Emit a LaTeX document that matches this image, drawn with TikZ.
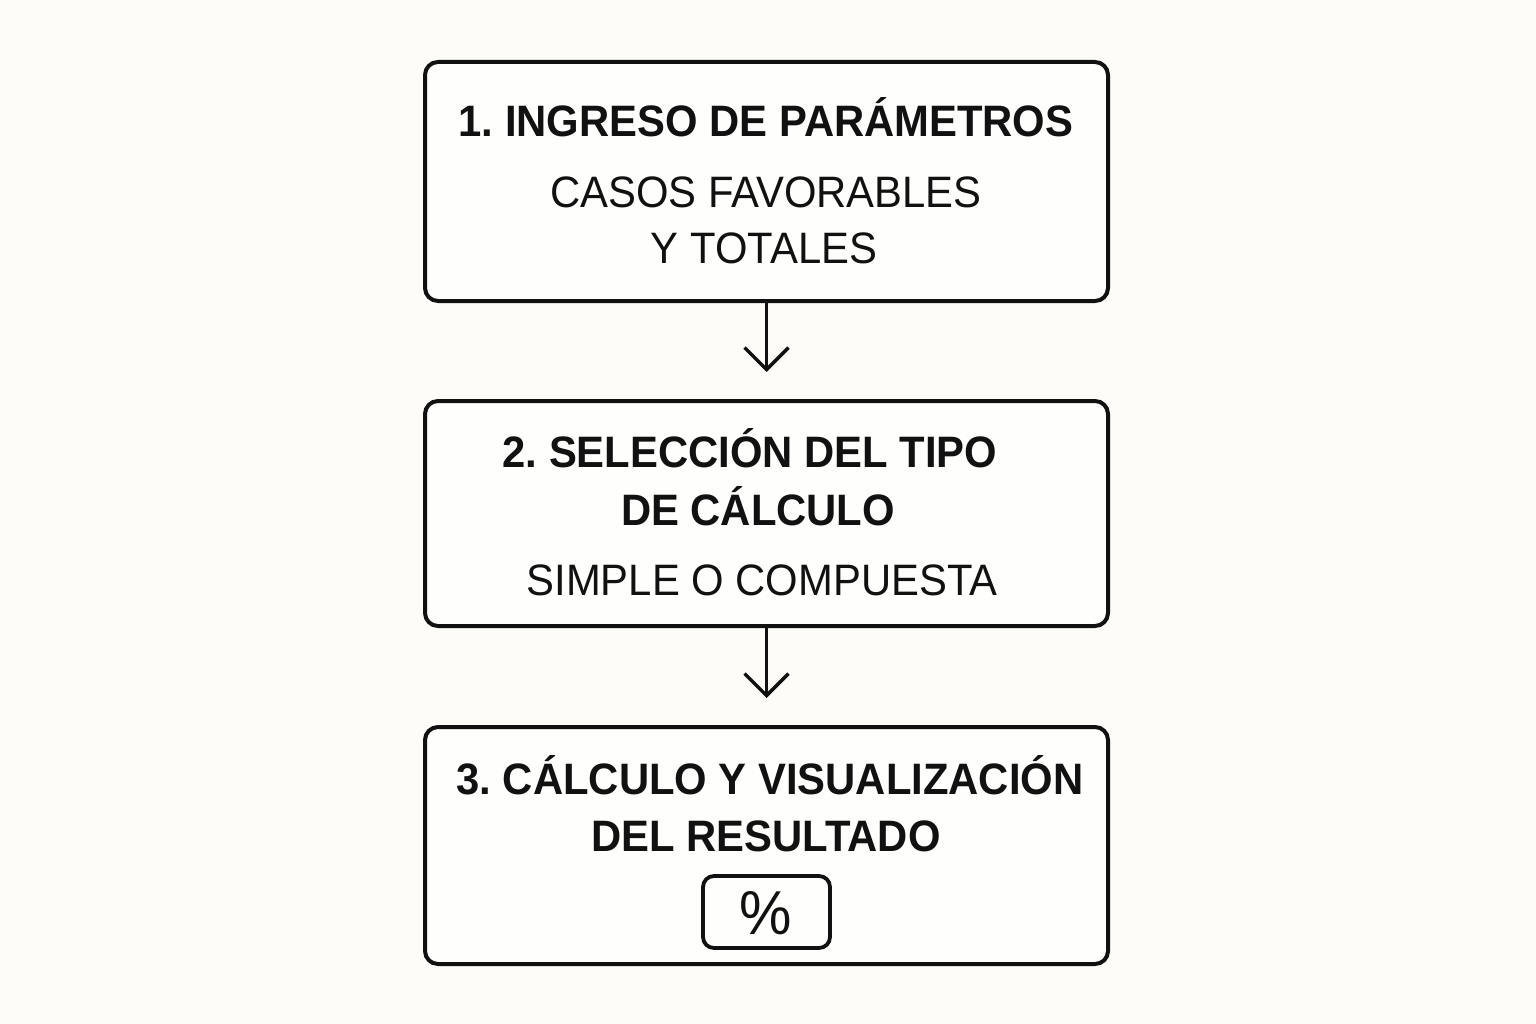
\documentclass[tikz,border=0pt]{standalone}
\usepackage{fontspec}
\setmainfont{Liberation Sans}[FakeStretch=0.95]
\usetikzlibrary{arrows.meta}
\definecolor{bg}{RGB}{253,252,248}
\definecolor{ink}{RGB}{17,17,17}
\frenchspacing
\tikzset{
  stepbox/.style={draw=ink, line width=4pt, rounded corners=13pt, fill=white!60!bg},
  ttl/.style={anchor=base, inner sep=0pt, text=ink, font=\fontsize{44}{50}\selectfont\bfseries},
  sub/.style={anchor=base, inner sep=0pt, text=ink, font=\fontsize{44}{50}\selectfont},
  arr/.style={draw=ink, line width=3.5pt, -{Straight Barb[length=22pt,width=44pt,line width=3.5pt]}},
}
\begin{document}
\begin{tikzpicture}[x=1pt,y=-1pt]
\useasboundingbox[fill=bg] (0,0) rectangle (1536,1024);
% boxes
\node[stepbox, minimum width=683pt, minimum height=239pt] (b1) at (766.5,181.5) {};
\node[stepbox, minimum width=683pt, minimum height=225pt] (b2) at (766.5,513.5) {};
\node[stepbox, minimum width=683pt, minimum height=237pt] (b3) at (766.5,845.5) {};
\node[draw=ink, line width=3.8pt, rounded corners=11pt, minimum width=127pt, minimum height=72pt] (pct) at (766.5,912) {};
% texts
\node[ttl] (t1) at (766,137) {1. INGRESO DE PARÁMETROS};
\node[sub] (s1a) at (766,208) {CASOS FAVORABLES};
\node[sub] (s1b) at (764,264) {Y TOTALES};
\node[ttl] (t2a) at (750,467) {2. SELECCIÓN DEL TIPO};
\node[ttl] (t2b) at (758,525) {DE CÁLCULO};
\node[sub] (s2) at (762,595) {SIMPLE O COMPUESTA};
\node[ttl] (t3a) at (770,794) {3. CÁLCULO Y VISUALIZACIÓN};
\node[ttl] (t3b) at (766,851) {DEL RESULTADO};
\node[sub, anchor=base, font=\fontsize{62}{70}\selectfont] (p) at (766,934) {\%};
% arrows
\draw[arr, shorten >=27pt] (b1) -- (b2);
\draw[arr, shorten >=27pt] (b2) -- (b3);
\end{tikzpicture}
\end{document}
